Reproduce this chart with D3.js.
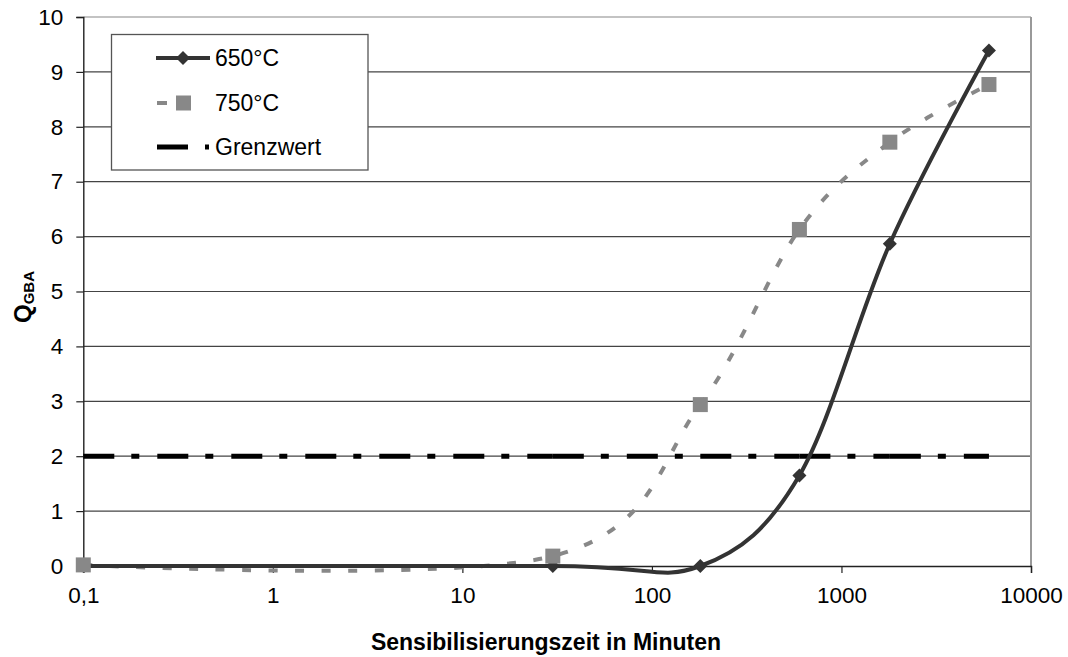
<!DOCTYPE html>
<html>
<head>
<meta charset="utf-8">
<script src="https://cdn.jsdelivr.net/npm/d3@7"></script>
<style>
  html, body { margin: 0; padding: 0; background: #fff; }
  text { font-family: "Liberation Sans", Arial, sans-serif; fill: #000; }
</style>
</head>
<body>
<svg id="chart" width="1068" height="657"></svg>
<script>
// ---- data ----
const times = [0.1, 30, 180, 600, 1800, 6000];
const q650 = [0, 0, 0, 1.65, 5.87, 9.39];
const q750 = [0.02, 0.18, 2.94, 6.13, 7.72, 8.77];
const grenzwert = [2, 2, 2, 2, 2, 2];
const xTicks = [0.1, 1, 10, 100, 1000, 10000];
const xTickLabels = ["0,1", "1", "10", "100", "1000", "10000"];
const yTicks = [0, 1, 2, 3, 4, 5, 6, 7, 8, 9, 10];
const seriesNames = ["650°C", "750°C", "Grenzwert"];

(function () {
// ---- layout ----
const svg = d3.select("#chart");
const pLeft = 83.3, pRight = 1031, pTop = 17, pBottom = 566;
const x = d3.scaleLog().domain([0.1, 10000]).range([pLeft, pRight]);
const y = d3.scaleLinear().domain([0, 10]).range([pBottom, pTop]);

// gridlines
svg.append("g").selectAll("line").data(yTicks.filter(d => d > 0)).join("line")
  .attr("x1", pLeft).attr("x2", pRight)
  .attr("y1", d => y(d)).attr("y2", d => y(d))
  .attr("stroke", d => d === 10 ? "#888" : "#444").attr("stroke-width", 1.2);

// right border
svg.append("line").attr("x1", pRight).attr("x2", pRight).attr("y1", pTop).attr("y2", pBottom)
  .attr("stroke", "#999").attr("stroke-width", 2);

// y axis
const yAxis = d3.axisLeft(y).tickValues(yTicks).tickSize(7).tickPadding(13).tickFormat(d3.format("d"));
const gy = svg.append("g").attr("transform", `translate(${pLeft},0)`).call(yAxis);
gy.select(".domain").attr("stroke", "#222").attr("stroke-width", 1.4);
gy.selectAll(".tick line").attr("stroke", "#222").attr("stroke-width", 1.2);
gy.selectAll(".tick text").attr("font-size", 22.5).attr("font-family", "Liberation Sans, Arial, sans-serif").attr("fill", "#000");

// x axis
const xAxis = d3.axisBottom(x).tickValues(xTicks).tickSize(7).tickPadding(14)
  .tickFormat((d, i) => xTickLabels[i]);
const gx = svg.append("g").attr("transform", `translate(0,${pBottom})`).call(xAxis);
gx.select(".domain").attr("stroke", "#222").attr("stroke-width", 1.4);
gx.selectAll(".tick line").attr("stroke", "#222").attr("stroke-width", 1.2);
gx.selectAll(".tick text").attr("font-size", 22.5).attr("font-family", "Liberation Sans, Arial, sans-serif").attr("fill", "#000");

// Grenzwert: one dashed segment per pair of points (dash pattern restarts)
const gSegs = d3.pairs(times.map((t, i) => [t, grenzwert[i]]));
svg.append("g").selectAll("line").data(gSegs).join("line")
  .attr("x1", d => x(d[0][0])).attr("x2", d => x(d[1][0]))
  .attr("y1", d => y(d[0][1])).attr("y2", d => y(d[1][1]))
  .attr("stroke", "#000").attr("stroke-width", 5)
  .attr("stroke-dasharray", "31,17,8,18");

const line = d3.line().x(d => x(d[0])).y(d => y(d[1])).curve(d3.curveCatmullRom.alpha(0));

// 750 series
const d750 = times.map((t, i) => [t, q750[i]]);
svg.append("path").datum(d750).attr("d", line)
  .attr("fill", "none").attr("stroke", "#888").attr("stroke-width", 4)
  .attr("stroke-dasharray", "9,17.5");

// 650 series
const d650 = times.map((t, i) => [t, q650[i]]);
svg.append("path").datum(d650).attr("d", line)
  .attr("fill", "none").attr("stroke", "#333").attr("stroke-width", 4);

// markers 650
svg.append("g").selectAll("path").data(d650).join("path")
  .attr("d", d3.symbol().type(d3.symbolDiamond2).size(125))
  .attr("transform", d => `translate(${x(d[0])},${y(d[1])})`)
  .attr("fill", "#333");

// markers 750
svg.append("g").selectAll("rect").data(d750).join("rect")
  .attr("x", d => x(d[0]) - 7.5).attr("y", d => y(d[1]) - 7.5)
  .attr("width", 15).attr("height", 15).attr("fill", "#888");

// legend
const lg = svg.append("g");
lg.append("rect").attr("x", 111.5).attr("y", 34.5).attr("width", 256.5).attr("height", 135.5)
  .attr("fill", "#fff").attr("stroke", "#555").attr("stroke-width", 1.3);
const ly = [58, 103, 147];
lg.append("line").attr("x1", 156).attr("x2", 210).attr("y1", ly[0]).attr("y2", ly[0])
  .attr("stroke", "#333").attr("stroke-width", 4);
lg.append("path").attr("d", d3.symbol().type(d3.symbolDiamond2).size(125))
  .attr("transform", `translate(183,${ly[0]})`).attr("fill", "#333");
lg.append("line").attr("x1", 157).attr("x2", 167).attr("y1", ly[1]).attr("y2", ly[1])
  .attr("stroke", "#888").attr("stroke-width", 4);
lg.append("rect").attr("x", 176).attr("y", ly[1] - 7.5).attr("width", 15).attr("height", 15).attr("fill", "#888");
lg.append("line").attr("x1", 157).attr("x2", 209).attr("y1", ly[2]).attr("y2", ly[2])
  .attr("stroke", "#000").attr("stroke-width", 5).attr("stroke-dasharray", "31,17,4,20");
lg.selectAll("text.leg").data(seriesNames).join("text").attr("class", "leg")
  .attr("x", 215).attr("y", (d, i) => ly[i]).attr("dy", "0.36em")
  .attr("font-size", 23).text(d => d);

// axis titles
svg.append("text").attr("x", 546).attr("y", 650).attr("text-anchor", "middle")
  .attr("font-size", 23).attr("font-weight", "bold").text("Sensibilisierungszeit in Minuten");
const yt = svg.append("text").attr("transform", "translate(31,297) rotate(-90)")
  .attr("text-anchor", "middle").attr("font-weight", "bold");
yt.append("tspan").attr("font-size", 24).text("Q");
yt.append("tspan").attr("font-size", 15).attr("dy", 3).text("GBA");
})();
</script>
</body>
</html>
